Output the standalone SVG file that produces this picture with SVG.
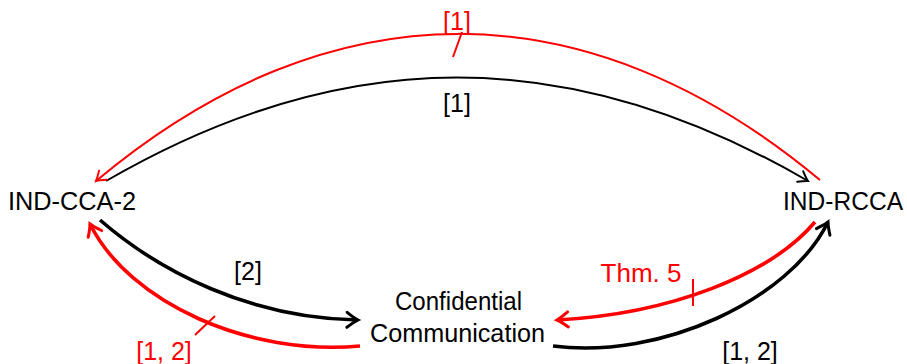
<svg xmlns="http://www.w3.org/2000/svg" width="907" height="364" viewBox="0 0 907 364">
<style>
text{font-family:"Liberation Sans","DejaVu Sans",sans-serif;font-size:25px;fill:#000}
.r{fill:#ff0000}
.thin{fill:none;stroke-width:2}
.thick{fill:none;stroke-width:3.6}
.k{stroke:#000}
.red{stroke:#ff0000}
</style>
<defs>
<marker id="ak" markerUnits="userSpaceOnUse" markerWidth="20" markerHeight="20" viewBox="-12 -10 14 20" refX="0" refY="0" orient="auto">
<path d="M-9,-6 Q-3,-1.5 0,0 Q-3,1.5 -9,6" fill="none" stroke="#000" stroke-width="2" stroke-linecap="round"/>
</marker>
<marker id="ar" markerUnits="userSpaceOnUse" markerWidth="20" markerHeight="20" viewBox="-12 -10 14 20" refX="0" refY="0" orient="auto">
<path d="M-9,-6 Q-3,-1.5 0,0 Q-3,1.5 -9,6" fill="none" stroke="#ff0000" stroke-width="2" stroke-linecap="round"/>
</marker>
<marker id="akT" markerUnits="userSpaceOnUse" markerWidth="24" markerHeight="24" viewBox="-14 -12 17 24" refX="0" refY="0" orient="auto">
<path d="M-11,-7.5 Q-4,-2 0,0 Q-4,2 -11,7.5" fill="none" stroke="#000" stroke-width="3" stroke-linecap="round"/>
</marker>
<marker id="arT" markerUnits="userSpaceOnUse" markerWidth="24" markerHeight="24" viewBox="-14 -12 17 24" refX="0" refY="0" orient="auto">
<path d="M-11,-7.5 Q-4,-2 0,0 Q-4,2 -11,7.5" fill="none" stroke="#ff0000" stroke-width="3" stroke-linecap="round"/>
</marker>
</defs>
<g id="n-indcca2"><text x="8" y="210" textLength="128" lengthAdjust="spacingAndGlyphs">IND-CCA-2</text></g>
<g id="n-indrcca"><text x="783" y="210" textLength="120" lengthAdjust="spacingAndGlyphs">IND-RCCA</text></g>
<g id="n-conf"><text x="395" y="310" textLength="127" lengthAdjust="spacingAndGlyphs">Confidential</text><text x="370" y="342" textLength="175" lengthAdjust="spacingAndGlyphs">Communication</text></g>
<g id="connectors">
<path class="thin k" d="M106,181 C344,43 570,43 808,181" marker-end="url(#ak)"/>
<path class="thin red" d="M820,180 C586,-15 330,-15 96,181" marker-end="url(#ar)"/>
<line class="red" x1="462" y1="32" x2="453" y2="57" stroke-width="2"/>
<path class="thick k" d="M100,220 C160,272 250,318 358,320" marker-end="url(#akT)"/>
<path class="thick red" d="M360,346 C250,356 130,304 90,224" marker-end="url(#arT)"/>
<line class="red" x1="215" y1="316" x2="195" y2="335" stroke-width="2"/>
<path class="thick red" d="M815,222 C770,275 670,314 557,320" marker-end="url(#arT)"/>
<line class="red" x1="693" y1="279" x2="693" y2="306" stroke-width="2"/>
<path class="thick k" d="M553,346 C660,360 790,300 828,222" marker-end="url(#akT)"/>
<text class="r" x="457" y="30" text-anchor="middle">[1]</text>
<text x="457" y="112" text-anchor="middle">[1]</text>
<text x="248" y="280" text-anchor="middle">[2]</text>
<text class="r" x="164" y="360" text-anchor="middle">[1, 2]</text>
<text class="r" x="641" y="282" text-anchor="middle" textLength="81" lengthAdjust="spacingAndGlyphs">Thm. 5</text>
<text x="750" y="360" text-anchor="middle">[1, 2]</text>
</g>
</svg>
